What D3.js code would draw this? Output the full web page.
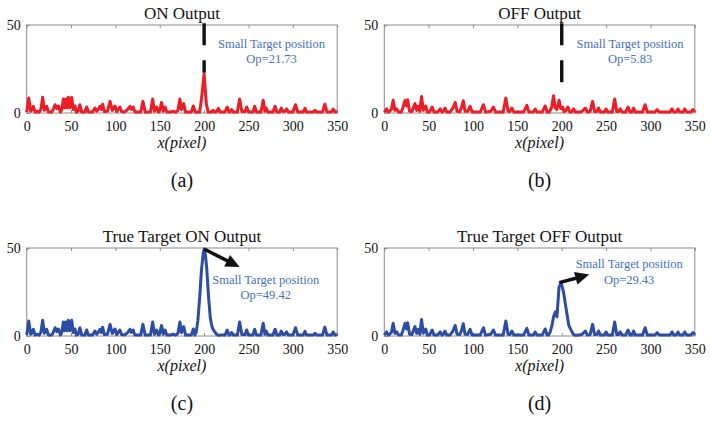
<!DOCTYPE html>
<html>
<head>
<meta charset="utf-8">
<script src="https://cdn.jsdelivr.net/npm/d3@7"></script>
<style>
  body { margin: 0; background: #fff; }
  svg { display: block; }
  svg text { font-family: "Liberation Serif", "Times New Roman", serif !important; }
</style>
</head>
<body>
<svg id="chart" width="711" height="431"></svg>
<script>
// ----------------------------------------------------------------------------
// data: values, [x (pixel), output]
// ----------------------------------------------------------------------------

const xTicks = [0, 50, 100, 150, 200, 250, 300, 350];
const yTicks = [0, 50];

// ON channel background, shared by (a) and (c)
const onLeft = [[0,0.5],[2.3,8.5],[4.5,1],[5.5,1.5],[7.5,3.8],[9.5,0.5],[12,1],[14,0.5],[16,2],[18,9],[20,1.5],[22.5,3.8],[24.5,0.5],[28,0.5],[30,2],[32,4.7],[34,2.5],[35.7,4],[38,0.5],[39.5,2],[41.3,8],[42.8,3],[44.3,7.9],[45.5,3],[47,9],[48.8,3],[50.7,9],[52.5,2],[54.4,4],[56,0.5],[58,1],[60,4.7],[62,0.5],[65.5,0.5],[67.6,3.4],[69.5,0.5],[74,0.5],[77,2.8],[79,1],[80.5,2],[82.6,3.8],[84,2],[85.6,5],[87.5,0.8],[91,1],[94,6.6],[96.5,1.5],[99.5,4],[101.5,0.8],[103,2],[105,3.4],[107,0.8],[110,0.5],[113,1.5],[116.4,3.8],[118,2],[120,3.4],[122,0.5],[128.5,0.5],[131,6.6],[133.5,0.5],[139.5,0.5],[142,8],[144,1],[146.5,3.4],[148.5,0.5],[150,1.5],[152,6],[154,1],[156,3.4],[158,0.5],[162,0.5],[165,1],[168,0.5],[170.5,1.5],[172.7,8],[174.5,2],[177,5.3],[179,0.5],[185.5,0.5],[187.8,4]];
const onRight = [[223.5,0.5],[226,3.4],[228,0.5],[229.5,0.8],[231,2],[233,0.5],[237.5,0.5],[240,8],[242.5,0.8],[246,0.8],[248,3.4],[250,0.5],[255,0.5],[257,3.8],[259,0.5],[264,0.5],[266.6,7.2],[268.5,1],[270,2.8],[272,0.5],[277.5,0.5],[280,3.8],[282,0.5],[285,0.5],[287,2.8],[289,0.8],[291,1],[293,2.3],[295,0.5],[300,0.5],[303,4.7],[305.5,0.5],[311.5,0.5],[313.6,2.6],[315.5,0.5],[323,0.5],[325,1.5],[327,0.5],[333.5,0.5],[336,5],[338.5,0.5],[343.5,0.5],[345.5,2.3],[347.5,0.5],[350,0.8]];
const onTargetA = [[190,0.5],[195,0.5],[197,8],[200,22],[202.5,5],[204.5,0.5],[208,0.5],[210,1.5],[212,0.5],[214,0.8],[216,2.6],[218,0.5]];
const onTargetC = [[189.6,0.5],[191,2],[193,9],[195,22],[197,37.6],[199,47],[200,49.4],[201.5,46],[203,38],[205,22],[207,10],[209,5],[211,3],[214,1],[216,0.4],[219,0.5]];

// OFF channel background, shared by (b) and (d)
const offLeft = [[0,0.5],[2.6,2.3],[4.5,0.5],[6,1],[8,2],[10,7.2],[12,1.5],[14,2.3],[16,0.5],[19,0.5],[21,3],[23.3,7.2],[25,4],[26.3,7.5],[28.5,1],[31,0.8],[34.6,5.3],[36.5,1.5],[38.4,3.8],[40,1],[42,9.4],[44,1.5],[46.7,4],[48.5,0.5],[51,0.5],[54,3.4],[56,0.5],[60,0.5],[63,2.3],[65,0.5],[66.5,1],[68.5,2.8],[70.5,0.5],[74,0.5],[77,2.5],[80,6],[82,1],[85,0.8],[87,3],[89,7],[91,1],[94,1],[96.7,3.8],[99,0.5],[108,0.5],[111.8,4.7],[114,0.5],[120,1],[123,3.4],[125.5,0.5],[134,0.5],[137,8.5],[139.5,1],[141.5,0.8],[143.8,2.8],[146,0.5],[157,0.5],[160.7,4.3],[163,0.5],[168,0.5],[170,2.3],[172,0.5],[178,0.5],[181.4,4],[183.5,0.5]];
const offRight = [[220,0.5],[223,1],[226.6,2.8],[229,0.5],[232,0.8],[234.8,6.6],[237,0.8],[239.5,0.8],[241.6,2.8],[243.5,0.5],[248,0.5],[250,2.3],[252,0.5],[257,0.5],[259.7,8],[262,0.8],[264,0.8],[266,2.3],[268,0.5],[272,0.5],[274.7,3.4],[277,0.5],[279,0.5],[281,2.8],[283,0.5],[291,0.5],[294,4.7],[296.5,0.5],[305,0.5],[307.5,1.9],[310,0.5],[322,0.5],[324.4,2.3],[326.5,0.5],[329,0.5],[331,2.3],[333,0.5],[336.5,0.5],[338.7,2.3],[341,0.5],[345.5,0.5],[347.8,1.9],[350,0.8]];
const offTargetB = [[186,0.5],[188.5,3],[190.8,9.8],[192.5,3],[194.5,2],[197,7.2],[199,2.5],[201,3.4],[203,0.8],[205,1.5],[207,3.4],[209,0.5],[211,0.5],[213.4,2.3],[215.5,0.5]];
const offTargetD = [[185,0.5],[187,2.3],[189,6],[190.8,10.9],[192.7,13.7],[194.6,10.9],[197,28],[199.5,30],[202,25],[205.8,12.8],[208,6],[210.7,3.2],[213,1],[215,0.4]];

const titles = ['ON Output', 'OFF Output', 'True Target ON Output', 'True Target OFF Output'];
const letters = ['(a)', '(b)', '(c)', '(d)'];
const opValues = ['21.73', '5.83', '49.42', '29.43'];

// ----------------------------------------------------------------------------
// layout
// ----------------------------------------------------------------------------

const svg = d3.select('#chart');
const w = 310.5, h = 88;
const panels = [
  {left: 26.7, top: 25, data: onLeft.concat(onTargetA, onRight), color: '#ee1c25',
   note: [276, 36.9, 28.4], dash: [51, 22.9]},
  {left: 384.3, top: 25, data: offLeft.concat(offTargetB, offRight), color: '#ee1c25',
   note: [277, 36.9, 28.4], dash: [51, 15.9]},
  {left: 26.7, top: 248, data: onLeft.concat(onTargetC, onRight), color: '#2c4ca6',
   note: [269.5, 29.6, 21], arrow: [[200, 49.4], [240, 39.2]]},
  {left: 384.3, top: 248, data: offLeft.concat(offTargetD, offRight), color: '#2c4ca6',
   note: [276, 38.7, 29.6], arrow: [[197.2, 30.3], [231, 34.9]]},
];

const xScale = d3.scaleLinear().domain([0, 350]).range([0, w]);
const yScale = d3.scaleLinear().domain([0, 50]).range([h, 0]);

panels.forEach((p, i) => {
  const g = svg.append('g').attr('transform', `translate(${p.left},${p.top})`);

  // box and inward ticks
  g.append('rect').attr('width', w).attr('height', h)
    .attr('fill', 'none').attr('stroke', '#8c8c8c').attr('stroke-width', 1);

  const xb = g.append('g').attr('transform', `translate(0,${h})`)
    .call(d3.axisBottom(xScale).tickValues(xTicks).tickSize(-3).tickPadding(8.5));
  g.append('g')
    .call(d3.axisTop(xScale).tickValues(xTicks).tickSize(-3).tickFormat(''));
  const yl = g.append('g')
    .call(d3.axisLeft(yScale).tickValues(yTicks).tickSize(-3).tickPadding(6));

  [xb, yl].forEach(a => {
    a.attr('font-family', null).attr('font-size', null);
    a.selectAll('text').style('font-size', '14px').attr('fill', '#111');
  });
  g.selectAll('.domain').remove();
  g.selectAll('.tick line').attr('stroke', '#8c8c8c');

  // the signal
  const line = d3.line()
    .x(d => xScale(d[0]))
    .y(d => yScale(d[1]));
  g.append('path')
    .attr('d', line(p.data))
    .attr('fill', 'none')
    .attr('stroke', p.color)
    .attr('stroke-width', 3)
    .attr('stroke-linejoin', 'round');

  // target marker
  if (p.dash) {
    g.append('line')
      .attr('x1', xScale(200)).attr('x2', xScale(200))
      .attr('y1', yScale(p.dash[0])).attr('y2', yScale(p.dash[1]))
      .attr('stroke', '#111').attr('stroke-width', 3.4)
      .attr('stroke-dasharray', '22,15');
  }
  if (p.arrow) {
    const x0 = xScale(p.arrow[0][0]), y0 = yScale(p.arrow[0][1]);
    const x1 = xScale(p.arrow[1][0]), y1 = yScale(p.arrow[1][1]);
    const ang = Math.atan2(y1 - y0, x1 - x0);
    const len = 14, half = 6.5;
    const bx = x1 - len * Math.cos(ang), by = y1 - len * Math.sin(ang);
    g.append('line')
      .attr('x1', x0).attr('y1', y0).attr('x2', bx + 2 * Math.cos(ang)).attr('y2', by + 2 * Math.sin(ang))
      .attr('stroke', '#111').attr('stroke-width', 3.5);
    g.append('path')
      .attr('d', `M${x1},${y1}L${bx - half * Math.sin(ang)},${by + half * Math.cos(ang)}L${bx + half * Math.sin(ang)},${by - half * Math.cos(ang)}Z`)
      .attr('fill', '#111');
  }

  // annotation
  const note = g.append('text')
    .attr('text-anchor', 'middle')
    .style('font-size', '12.5px')
    .attr('fill', '#4470c6');
  note.append('tspan').attr('x', xScale(p.note[0])).attr('y', yScale(p.note[1]))
    .text('Small Target position');
  note.append('tspan').attr('x', xScale(p.note[0])).attr('y', yScale(p.note[2]))
    .text(`Op=${opValues[i]}`);

  // title, x label, panel letter
  g.append('text').attr('x', w / 2).attr('y', -6.5)
    .attr('text-anchor', 'middle').style('font-size', '17px').attr('fill', '#111')
    .text(titles[i]);
  g.append('text').attr('x', w / 2).attr('y', h + 35)
    .attr('text-anchor', 'middle').style('font-size', '16px').style('font-style', 'italic')
    .attr('fill', '#111')
    .text('x(pixel)');
  g.append('text').attr('x', w / 2).attr('y', h + 74)
    .attr('text-anchor', 'middle').style('font-size', '20px').attr('fill', '#111')
    .text(letters[i]);
});
</script>
</body>
</html>
